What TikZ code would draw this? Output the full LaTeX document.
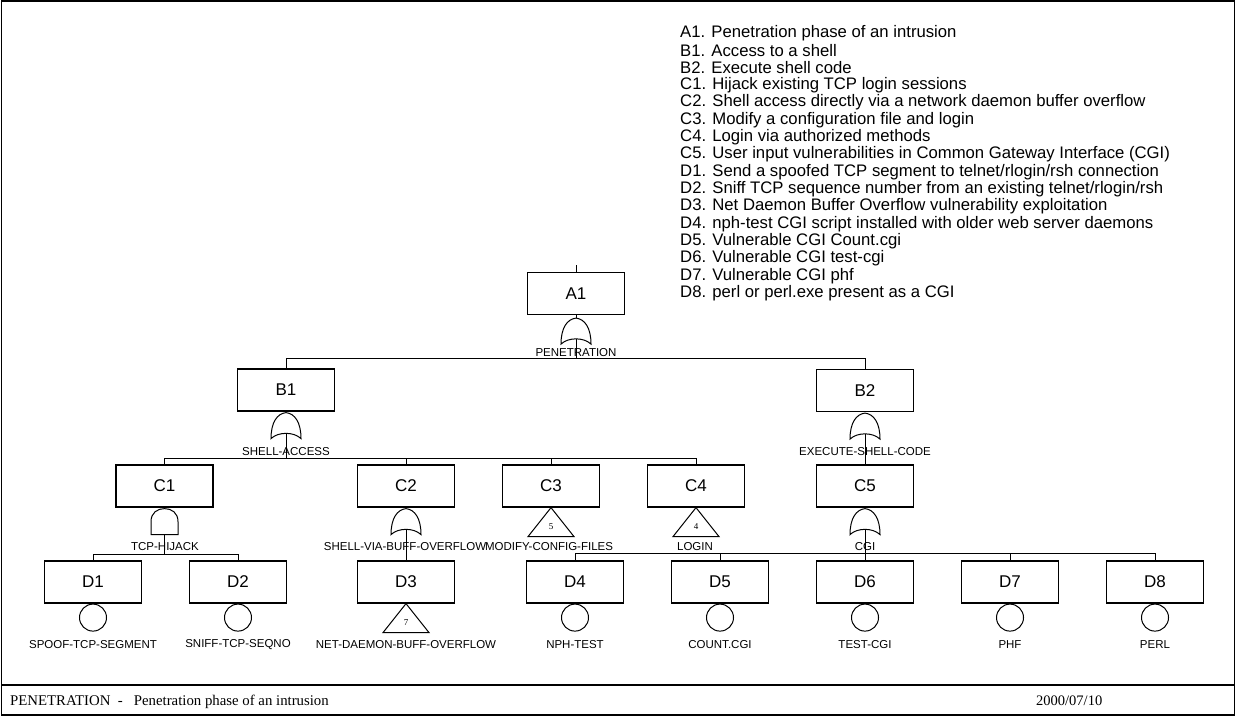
\documentclass[tikz,border=0pt]{standalone}
\usepackage{fontspec}
\setmainfont{Liberation Sans}
\newfontfamily\seriffont{Liberation Serif}
\usetikzlibrary{calc}
\begin{document}
\begin{tikzpicture}[x=1pt,y=-1pt,
  box/.style={draw,line width=1.2pt,minimum width=97pt,minimum height=42pt,inner sep=0pt,font=\fontsize{17}{17}\selectfont},
  glabel/.style={font=\fontsize{11.5}{12}\selectfont,inner sep=0pt},
  legend/.style={anchor=west,font=\fontsize{16.7}{17}\selectfont,inner sep=0pt},
  conn/.style={line width=1pt},
  evt/.style={draw,line width=1pt,circle,minimum size=27pt,inner sep=0pt},
  orgate/.pic={\draw[line width=1pt] (0,0) .. controls (9,1) and (15,10) .. (15,26) .. controls (8,19) and (-8,19) .. (-15,26) .. controls (-15,10) and (-9,1) .. (0,0) -- cycle;},
  andgate/.pic={\draw[line width=1pt] (-13.5,26) -- (-13.5,13) .. controls (-13.5,4) and (-7,0) .. (0,0) .. controls (7,0) and (13.5,4) .. (13.5,13) -- (13.5,26) -- cycle;},
  xfer/.pic={\draw[line width=1pt] (0,0) -- (23,29) -- (-23,29) -- cycle;
    \node[font=\seriffont\fontsize{9}{9}\selectfont,inner sep=0pt] (-n) at (0,19) {#1};}
]
\useasboundingbox (0,0) rectangle (1236,716);
% frame
\draw[line width=1.5pt] (1.5,1) rectangle (1234.5,715);
\coordinate (fl) at (1.5,685);
\coordinate (fr) at (1234.5,685);
\draw[line width=2.5pt] (fl) -- (fr);
\node[anchor=base west,inner sep=0pt,font=\seriffont\fontsize{14.8}{15}\selectfont] (foot) at (10,705) {PENETRATION\ \ -\ \ \ Penetration phase of an intrusion};
\node[anchor=base west,inner sep=0pt,font=\seriffont\fontsize{14.5}{15}\selectfont] (date) at (1036,705) {2000/07/10};

% legend
\foreach \t [count=\i from 0] in {
 A1. Penetration phase of an intrusion,
 B1. Access to a shell,
 B2. Execute shell code,
 C1. Hijack existing TCP login sessions,
 C2. Shell access directly via a network daemon buffer overflow,
 C3. Modify a configuration file and login,
 C4. Login via authorized methods,
 C5. User input vulnerabilities in Common Gateway Interface (CGI),
 D1. Send a spoofed TCP segment to telnet/rlogin/rsh connection,
 D2. Sniff TCP sequence number from an existing telnet/rlogin/rsh,
 D3. Net Daemon Buffer Overflow vulnerability exploitation,
 D4. nph-test CGI script installed with older web server daemons,
 D5. Vulnerable CGI Count.cgi,
 D6. Vulnerable CGI test-cgi,
 D7. Vulnerable CGI phf,
 D8. perl or perl.exe present as a CGI}
 { \node[legend] (leg\i) at (680,{33+17.35*\i}) {\t}; }

% boxes
\node[box] (A1) at (576,293.5) {A1};
\node[box] (B1) at (286,390) {B1};
\node[box] (B2) at (865,390.5) {B2};
\node[box] (C1) at (164.5,486) {C1};
\node[box] (C2) at (406,486) {C2};
\node[box] (C3) at (551,486) {C3};
\node[box] (C4) at (696,486) {C4};
\node[box] (C5) at (865,486) {C5};
\node[box] (D1) at (93,582) {D1};
\node[box] (D2) at (238,582) {D2};
\node[box] (D3) at (406,582) {D3};
\node[box] (D4) at (575,582) {D4};
\node[box] (D5) at (720,582) {D5};
\node[box] (D6) at (865,582) {D6};
\node[box] (D7) at (1010,582) {D7};
\node[box] (D8) at (1155,582) {D8};

% A1
\coordinate (top) at (576,265);
\draw[conn] (top) -- (A1.north);
\coordinate (gAt) at ($(A1.south)+(0,3)$);
\coordinate (gAb) at ($(gAt)+(0,21)$);
\draw[conn] (A1.south) -- (gAt);
\pic (gA) at (gAt) {orgate};
\draw[conn] (gAb) |- ($(B1.north)+(0,-10)$) -- (B1.north);
\draw[conn] (gAb) |- ($(B2.north)+(0,-10)$) -- (B2.north);
\node[glabel] (lA) at (576,353) {PENETRATION};

% B1
\coordinate (gB1t) at ($(B1.south)+(0,1)$);
\coordinate (gB1b) at ($(gB1t)+(0,21)$);
\pic (gB1) at (gB1t) {orgate};
\foreach \c in {C1,C2,C3,C4}
  \draw[conn] (gB1b) |- ($(\c.north)+(0,-6)$) -- (\c.north);
\node[glabel] (lB1) at (286,452) {SHELL-ACCESS};

% B2
\coordinate (gB2t) at ($(B2.south)+(0,1)$);
\coordinate (gB2b) at ($(gB2t)+(0,21)$);
\pic (gB2) at (gB2t) {orgate};
\draw[conn] (gB2b) -- (C5.north);
\node[glabel] (lB2) at (865,452) {EXECUTE-SHELL-CODE};

% C1
\coordinate (gC1t) at ($(C1.south)+(0,1)$);
\coordinate (gC1b) at ($(gC1t)+(0,26)$);
\pic (gC1) at (gC1t) {andgate};
\foreach \c in {D1,D2}
  \draw[conn] (gC1b) |- ($(\c.north)+(0,-6)$) -- (\c.north);
\node[glabel] (lC1) at (165,547) {TCP-HIJACK};

% C2
\coordinate (gC2t) at ($(C2.south)+(0,1)$);
\coordinate (gC2b) at ($(gC2t)+(0,21)$);
\pic (gC2) at (gC2t) {orgate};
\draw[conn] (gC2b) -- (D3.north);
\node[glabel] (lC2) at (405,547) {SHELL-VIA-BUFF-OVERFLOW};

% C3, C4
\pic (tC3) at (C3.south) {xfer=5};
\node[glabel] (lC3) at (549,547) {MODIFY-CONFIG-FILES};
\pic (tC4) at (C4.south) {xfer=4};
\node[glabel] (lC4) at (695,547) {LOGIN};

% C5
\coordinate (gC5t) at ($(C5.south)+(0,1)$);
\coordinate (gC5b) at ($(gC5t)+(0,21)$);
\pic (gC5) at (gC5t) {orgate};
\foreach \c in {D4,D5,D6,D7,D8}
  \draw[conn] (gC5b) |- ($(\c.north)+(0,-7)$) -- (\c.north);
\node[glabel] (lC5) at (865,547) {CGI};

% basic events
\foreach \d in {D1,D2,D4,D5,D6,D7,D8}
  \node[evt] (e\d) at ($(\d.south)+(0,14)$) {};
\pic (tD3) at (D3.south) {xfer=7};

\node[glabel] (l1) at (93,645) {SPOOF-TCP-SEGMENT};
\node[glabel] (l2) at (238,645) {SNIFF-TCP-SEQNO};
\node[glabel] (l3) at (406,645) {NET-DAEMON-BUFF-OVERFLOW};
\node[glabel] (l4) at (575,645) {NPH-TEST};
\node[glabel] (l5) at (720,645) {COUNT.CGI};
\node[glabel] (l6) at (865,645) {TEST-CGI};
\node[glabel] (l7) at (1010,645) {PHF};
\node[glabel] (l8) at (1155,645) {PERL};
\end{tikzpicture}
\end{document}
